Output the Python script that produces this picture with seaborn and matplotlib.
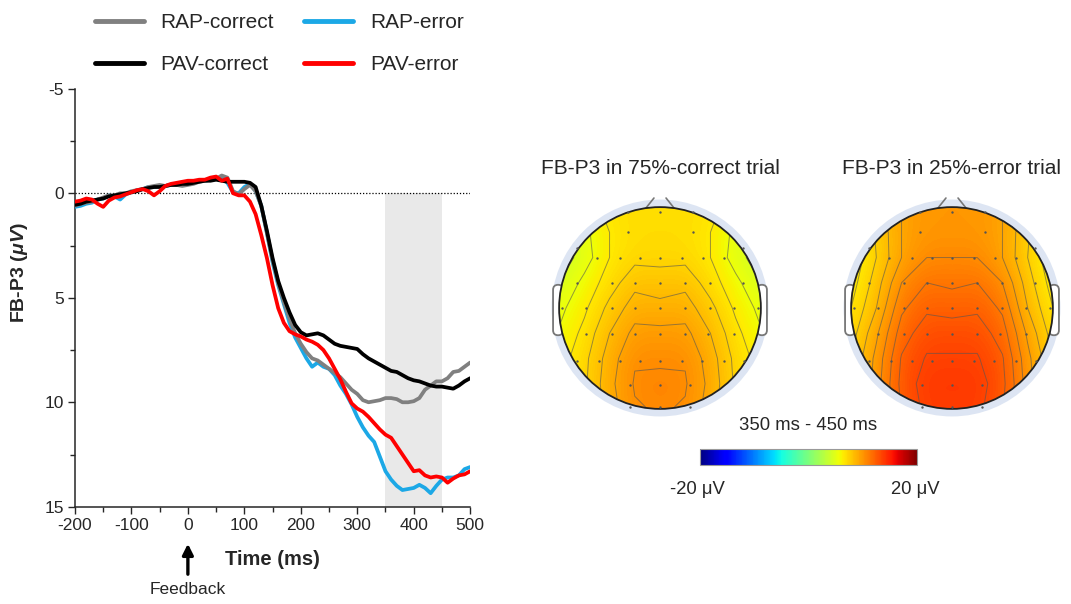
import numpy as np
import pandas as pd
import seaborn as sns
import matplotlib.pyplot as plt
from matplotlib.patches import Circle, FancyBboxPatch
from matplotlib.ticker import MultipleLocator
import matplotlib as mpl

# ---- ERP waveforms (FB-P3, microvolts; negative up) ----
time_ms = [-200, -190, -180, -170, -160, -150, -140, -130, -120, -110,
           -100, -90, -80, -70, -60, -50, -40, -30, -20, -10,
           0, 10, 20, 30, 40, 50, 60, 70, 80, 90,
           100, 110, 120, 130, 140, 150, 160, 170, 180, 190,
           200, 210, 220, 230, 240, 250, 260, 270, 280, 290,
           300, 310, 320, 330, 340, 350, 360, 370, 380, 390,
           400, 410, 420, 430, 440, 450, 460, 470, 480, 490, 500]

rap_correct = [0.6, 0.5, 0.45, 0.4, 0.3, 0.2, 0.1, 0.1, 0.0, 0.0,
               -0.1, -0.15, -0.2, -0.3, -0.35, -0.4, -0.35, -0.4, -0.4, -0.35,
               -0.4, -0.45, -0.55, -0.6, -0.65, -0.7, -0.85, -0.75, -0.1, 0.05,
               -0.2, -0.4, -0.1, 0.6, 1.9, 3.2, 4.3, 5.2, 6.0, 6.7,
               7.2, 7.6, 7.9, 8.0, 8.2, 8.4, 8.6, 8.8, 9.1, 9.4,
               9.6, 9.9, 10.0, 9.95, 9.9, 9.8, 9.8, 9.85, 10.0, 10.0,
               9.95, 9.8, 9.4, 9.2, 9.0, 9.0, 8.85, 8.55, 8.5, 8.3, 8.1]

rap_error = [0.65, 0.6, 0.5, 0.45, 0.3, 0.25, 0.1, 0.15, 0.3, 0.05,
             -0.05, -0.15, -0.2, -0.3, -0.3, -0.35, -0.35, -0.4, -0.45, -0.5,
             -0.5, -0.55, -0.6, -0.6, -0.65, -0.7, -0.75, -0.5, -0.05, 0.0,
             -0.3, -0.45, -0.1, 0.6, 1.9, 3.3, 4.4, 5.3, 6.2, 6.9,
             7.4, 7.9, 8.3, 8.1, 8.3, 8.4, 8.7, 9.2, 9.6, 10.1,
             10.7, 11.2, 11.6, 11.9, 12.6, 13.3, 13.7, 14.0, 14.2, 14.15,
             14.1, 13.95, 14.1, 14.35, 14.0, 13.7, 13.6, 13.6, 13.5, 13.2, 13.1]

pav_correct = [0.55, 0.5, 0.4, 0.35, 0.3, 0.25, 0.15, 0.1, 0.05, 0.0,
               -0.05, -0.1, -0.2, -0.25, -0.3, -0.3, -0.35, -0.4, -0.4, -0.45,
               -0.45, -0.5, -0.55, -0.6, -0.6, -0.65, -0.6, -0.55, -0.55, -0.55,
               -0.55, -0.5, -0.3, 0.6, 1.8, 3.1, 4.2, 5.0, 5.7, 6.3,
               6.65, 6.8, 6.75, 6.7, 6.8, 7.0, 7.2, 7.3, 7.35, 7.4,
               7.45, 7.7, 7.9, 8.05, 8.2, 8.35, 8.5, 8.55, 8.7, 8.85,
               8.95, 9.0, 9.1, 9.2, 9.25, 9.25, 9.3, 9.35, 9.2, 9.0, 8.85]

pav_error = [0.4, 0.35, 0.25, 0.3, 0.5, 0.65, 0.35, 0.2, 0.15, 0.05,
             -0.05, -0.15, -0.2, -0.1, 0.1, -0.1, -0.35, -0.45, -0.5, -0.55,
             -0.6, -0.6, -0.65, -0.65, -0.75, -0.8, -0.6, -0.7, 0.0, 0.1,
             0.1, 0.4, 1.0, 2.0, 3.1, 4.4, 5.5, 6.2, 6.6, 6.75,
             6.85, 7.0, 7.1, 7.25, 7.5, 7.9, 8.4, 8.9, 9.5, 10.05,
             10.3, 10.45, 10.7, 11.0, 11.3, 11.55, 11.7, 12.1, 12.5, 12.9,
             13.3, 13.25, 13.5, 13.6, 13.55, 13.6, 13.85, 13.65, 13.5, 13.45, 13.3]

draw_order = ['RAP-error', 'RAP-correct', 'PAV-correct', 'PAV-error']
legend_order = ['RAP-correct', 'PAV-correct', 'RAP-error', 'PAV-error']
colors = {'RAP-correct': '#808080', 'RAP-error': '#1ca8e6',
          'PAV-correct': '#000000', 'PAV-error': '#ff0000'}
window_ms = [350, 450]

# ---- topographies 350-450 ms (uV, rows front->back, cols left->right) ----
grid_pos = [-1.0, -0.75, -0.5, -0.25, 0.0, 0.25, 0.5, 0.75, 1.0]
topo_correct = [
    [5.5, 6.0, 6.8, 7.0, 7.0, 7.0, 6.8, 6.0, 5.5],
    [4.2, 5.2, 6.5, 7.0, 7.0, 7.0, 6.5, 5.2, 4.2],
    [3.8, 5.0, 6.5, 7.2, 7.2, 7.2, 6.5, 5.0, 3.8],
    [4.5, 5.8, 7.0, 8.2, 8.0, 8.2, 7.0, 5.8, 4.5],
    [5.2, 6.3, 7.8, 9.0, 8.8, 9.0, 7.8, 6.3, 5.2],
    [5.6, 6.8, 8.5, 9.8, 9.8, 9.8, 8.5, 6.8, 5.6],
    [6.0, 7.2, 9.0, 10.4, 10.3, 10.4, 9.0, 7.2, 6.0],
    [6.0, 7.3, 9.2, 10.6, 10.8, 10.6, 9.2, 7.3, 6.0],
    [6.0, 7.2, 9.0, 10.4, 10.6, 10.4, 9.0, 7.2, 6.0],
]
topo_error = [
    [7.5, 8.3, 9.5, 10.0, 10.0, 10.0, 9.5, 8.3, 7.5],
    [6.2, 7.6, 9.5, 10.0, 10.0, 10.0, 9.5, 7.6, 6.2],
    [5.6, 7.5, 9.5, 10.5, 10.5, 10.5, 9.5, 7.5, 5.6],
    [6.0, 8.0, 10.5, 11.5, 11.3, 11.5, 10.5, 8.0, 6.0],
    [6.5, 8.5, 11.3, 12.3, 12.1, 12.3, 11.3, 8.5, 6.5],
    [7.0, 9.3, 12.0, 13.1, 13.1, 13.1, 12.0, 9.3, 7.0],
    [7.5, 9.8, 12.6, 13.6, 13.6, 13.6, 12.6, 9.8, 7.5],
    [7.5, 10.0, 12.8, 14.0, 14.0, 14.0, 12.8, 10.0, 7.5],
    [7.5, 10.0, 12.6, 13.8, 13.8, 13.8, 12.6, 10.0, 7.5],
]
topo_titles = ['FB-P3 in 75%-correct trial', 'FB-P3 in 25%-error trial']
electrode_rows = [
    (0.95, [-0.32, 0.0, 0.33]),
    (0.75, [-0.32, 0.33]),
    (0.59, [-0.82, 0.82]),
    (0.50, [-0.62, -0.40, -0.20, 0.0, 0.22, 0.43, 0.63]),
    (0.25, [-0.82, -0.48, -0.25, 0.0, 0.25, 0.50, 0.82]),
    (0.0, [-0.97, -0.73, -0.48, -0.25, 0.0, 0.25, 0.50, 0.73, 0.97]),
    (-0.26, [-0.73, -0.48, -0.25, 0.0, 0.25, 0.48, 0.73]),
    (-0.53, [-0.82, -0.60, -0.40, -0.20, 0.0, 0.22, 0.42, 0.63, 0.83]),
    (-0.76, [-0.30, 0.0, 0.30]),
    (-0.98, [-0.30, 0.0, 0.30]),
]
cbar_range = [-20, 20]

sns.set_style('ticks')
plt.rcParams['font.family'] = ['Liberation Sans', 'DejaVu Sans']
plt.rcParams['axes.unicode_minus'] = False
plt.rcParams['mathtext.fontset'] = 'custom'
plt.rcParams['mathtext.it'] = 'Liberation Sans:italic:bold'

fig = plt.figure(figsize=(10.71, 6.04), dpi=100)
ax = fig.add_axes([0.070, 0.161, 0.369, 0.692])

series = {'RAP-correct': rap_correct, 'RAP-error': rap_error,
          'PAV-correct': pav_correct, 'PAV-error': pav_error}
df = pd.concat([pd.DataFrame({'Time': time_ms, 'Amp': series[k], 'Condition': k})
                for k in draw_order], ignore_index=True)

ax.fill_between(window_ms, 0, 15, color='#e9e9e9', lw=0, zorder=0)
ax.axhline(0, color='black', lw=0.9, ls=(0, (1, 1.5)), zorder=1)
sns.lineplot(data=df, x='Time', y='Amp', hue='Condition', hue_order=draw_order,
             palette=colors, lw=2.7, legend=False, ax=ax, zorder=3)

ax.set_xlim(-200, 500)
ax.set_ylim(15, -5)
ax.xaxis.set_major_locator(MultipleLocator(100))
ax.xaxis.set_minor_locator(MultipleLocator(50))
ax.yaxis.set_major_locator(MultipleLocator(5))
ax.yaxis.set_minor_locator(MultipleLocator(2.5))
ax.tick_params(which='major', length=5, width=1, labelsize=12.5, pad=3)
ax.tick_params(which='minor', length=3.5, width=1)
sns.despine(ax=ax)
for s in ['left', 'bottom']:
    ax.spines[s].set_linewidth(1.1)
ax.set_xlabel('Time (ms)', fontsize=14.5, fontweight='bold', labelpad=12)
ax.set_ylabel(r'FB-P3 ($\mathit{\mu V}$)', fontsize=14, fontweight='bold')
ax.yaxis.set_label_coords(-0.115, 0.56)

ax.annotate('', xy=(0, 1 - 541 / 604), xycoords=('data', 'figure fraction'),
            xytext=(0, 1 - 577 / 604), textcoords=('data', 'figure fraction'),
            arrowprops=dict(arrowstyle='-|>', lw=2.4, color='black', mutation_scale=16),
            annotation_clip=False)
ax.annotate('Feedback', xy=(0, 1 - 590 / 604), xycoords=('data', 'figure fraction'),
            ha='center', va='center', fontsize=12.5, annotation_clip=False)

handles = [plt.Line2D([], [], color=colors[k], lw=3.5) for k in legend_order]
fig.legend(handles, legend_order, ncol=2, loc='upper left',
           bbox_to_anchor=(95 / 1071, 1 - 13 / 604), frameon=False, fontsize=15,
           handlelength=2.35, handletextpad=0.8, columnspacing=1.45,
           labelspacing=1.1, borderpad=0, borderaxespad=0)

# ---- topographic maps ----
norm = mpl.colors.Normalize(vmin=cbar_range[0], vmax=cbar_range[1])
for i, (vals, title) in enumerate(zip([topo_correct, topo_error], topo_titles)):
    cx = [660, 952][i]
    cy = 308
    half = 114
    ta = fig.add_axes([(cx - half) / 1071, 1 - (cy + half) / 604,
                       2 * half / 1071, 2 * half / 604])
    ta.set_xlim(-1.13, 1.13)
    ta.set_ylim(-1.13, 1.13)
    ta.set_aspect('equal')
    ta.axis('off')
    ta.add_patch(Circle((0, 0), 1.075, color='#dde5f3', lw=0, zorder=0))
    for sx in [-1, 1]:
        ta.add_patch(FancyBboxPatch((sx * 1.01 - 0.05, -0.27), 0.1, 0.5,
                                    boxstyle='round,pad=0,rounding_size=0.05',
                                    fc='white', ec='#777777', lw=1.3, zorder=1))
        ta.plot([sx * 0.14, sx * 0.06], [0.99, 1.09], color='#777777', lw=1.2, zorder=1)
    clip = Circle((0, 0), 1.0, transform=ta.transData)
    arr = np.array(vals)
    im = ta.imshow(arr, extent=(-1.125, 1.125, -1.125, 1.125), origin='upper',
                   cmap='jet', norm=norm, interpolation='bicubic', zorder=2)
    im.set_clip_path(clip)
    cs = ta.contour(grid_pos, grid_pos[::-1], arr, levels=np.arange(4.5, 15, 1.0),
                    colors='#555555', linewidths=0.7, alpha=0.6, zorder=3)
    cs.set_clip_path(clip)
    ta.add_patch(Circle((0, 0), 1.0, fill=False, ec='#222222', lw=1.3, zorder=4))
    for ey, exs in electrode_rows:
        ta.scatter(exs, [ey] * len(exs), s=3, color='#555555', lw=0, zorder=5)
    fig.text(cx / 1071, 1 - 168 / 604, title, ha='center', va='center', fontsize=15)

cax = fig.add_axes([700 / 1071, 1 - 465 / 604, 217 / 1071, 16 / 604])
cb = fig.colorbar(mpl.cm.ScalarMappable(norm=norm, cmap='jet'), cax=cax,
                  orientation='horizontal', ticks=[])
cb.outline.set_edgecolor('#999999')
cb.outline.set_linewidth(0.8)
fig.text(808 / 1071, 1 - 426 / 604, '350 ms - 450 ms', ha='center', va='center', fontsize=13.3)
fig.text(697 / 1071, 1 - 490 / 604, '-20 μV', ha='center', va='center', fontsize=13.3)
fig.text(915 / 1071, 1 - 490 / 604, '20 μV', ha='center', va='center', fontsize=13.3)

fig.savefig('out.png', dpi=100)
